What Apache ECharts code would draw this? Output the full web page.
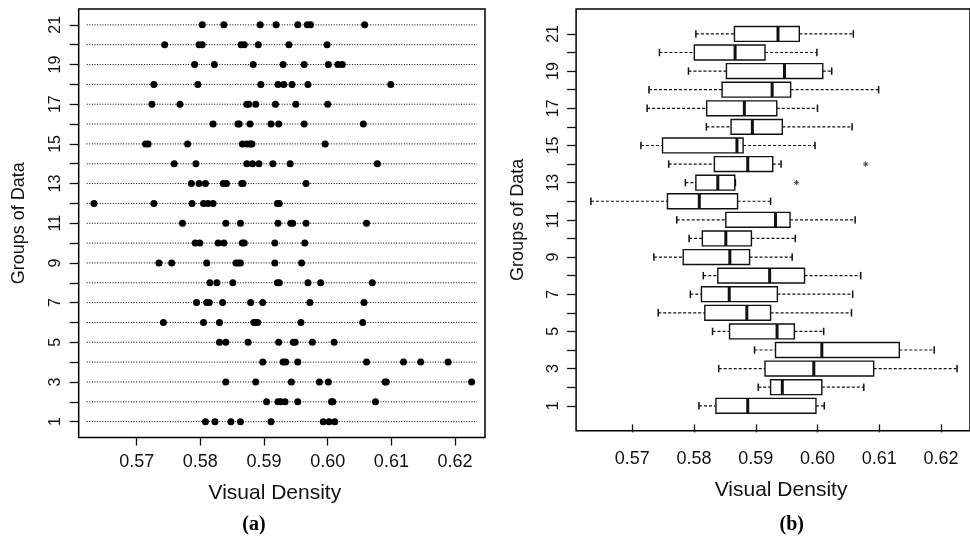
<!DOCTYPE html>
<html>
<head>
<meta charset="utf-8">
<script src="https://cdn.jsdelivr.net/npm/echarts@6/dist/echarts.min.js"></script>
<style>
  html, body { margin: 0; padding: 0; background: #fff; }
  #chart { width: 970px; height: 540px; }
</style>
</head>
<body>
<div id="chart"></div>
<script>
// Group numbers and tick labels
const groupIds = [1, 2, 3, 4, 5, 6, 7, 8, 9, 10, 11, 12, 13, 14, 15, 16, 17, 18, 19, 20, 21];
const groupTickLabels = [1, 3, 5, 7, 9, 11, 13, 15, 17, 19, 21];
const densityTicks = [0.57, 0.58, 0.59, 0.60, 0.61, 0.62];

// Visual density measurements, one array per group
const group01 = [0.5808, 0.5823, 0.5848, 0.5863, 0.5911, 0.5993, 0.6002, 0.6011];
const group02 = [0.5904, 0.5922, 0.5926, 0.5933, 0.5953, 0.6006, 0.6008, 0.6075];
const group03 = [0.5840, 0.5887, 0.5943, 0.5987, 0.6001, 0.6090, 0.6092, 0.6226];
const group04 = [0.5898, 0.5930, 0.5934, 0.5953, 0.6061, 0.6119, 0.6146, 0.6189];
const group05 = [0.5830, 0.5840, 0.5875, 0.5923, 0.5946, 0.5949, 0.5976, 0.6010];
const group06 = [0.5742, 0.5805, 0.5830, 0.5884, 0.5887, 0.5890, 0.5958, 0.6055];
const group07 = [0.5794, 0.5810, 0.5814, 0.5835, 0.5879, 0.5898, 0.5972, 0.6057];
const group08 = [0.5815, 0.5826, 0.5851, 0.5921, 0.5924, 0.5969, 0.5989, 0.6070];
const group09 = [0.5735, 0.5755, 0.5810, 0.5856, 0.5860, 0.5863, 0.5917, 0.5959];
const group10 = [0.5792, 0.5799, 0.5828, 0.5837, 0.5866, 0.5869, 0.5917, 0.5964];
const group11 = [0.5772, 0.5840, 0.5863, 0.5922, 0.5942, 0.5945, 0.5966, 0.6061];
const group12 = [0.5633, 0.5727, 0.5787, 0.5805, 0.5812, 0.5820, 0.5921, 0.5924];
const group13 = [0.5786, 0.5798, 0.5808, 0.5836, 0.5841, 0.5865, 0.5867, 0.5966];
const group14 = [0.5759, 0.5793, 0.5873, 0.5882, 0.5892, 0.5914, 0.5941, 0.6078];
const group15 = [0.5714, 0.5718, 0.5780, 0.5866, 0.5873, 0.5878, 0.5881, 0.5996];
const group16 = [0.5820, 0.5859, 0.5861, 0.5878, 0.5911, 0.5923, 0.5963, 0.6056];
const group17 = [0.5724, 0.5768, 0.5873, 0.5876, 0.5887, 0.5918, 0.5950, 0.6000];
const group18 = [0.5727, 0.5796, 0.5895, 0.5922, 0.5931, 0.5944, 0.5969, 0.6099];
const group19 = [0.5791, 0.5822, 0.5883, 0.5930, 0.5963, 0.6001, 0.6016, 0.6023];
const group20 = [0.5744, 0.5798, 0.5803, 0.5864, 0.5869, 0.5891, 0.5939, 0.5999];
const group21 = [0.5803, 0.5837, 0.5894, 0.5919, 0.5953, 0.5968, 0.5973, 0.6058];

const densityByGroup = [
  group01, group02, group03, group04, group05, group06, group07,
  group08, group09, group10, group11, group12, group13, group14,
  group15, group16, group17, group18, group19, group20, group21
];

// Tukey five-number summary (hinges), as used by classic box plots
function fiveNum(values) {
  const x = values.slice().sort((a, b) => a - b);
  const n = x.length;
  const n4 = Math.floor((n + 3) / 2) / 2;
  const d = [1, n4, (n + 1) / 2, n + 1 - n4, n];
  return d.map(p => 0.5 * (x[Math.floor(p) - 1] + x[Math.ceil(p) - 1]));
}

function boxStats(values) {
  const [mn, lh, med, uh, mx] = fiveNum(values);
  const reach = 1.5 * (uh - lh);
  const inside = values.filter(v => v >= lh - reach && v <= uh + reach);
  const outside = values.filter(v => v < lh - reach || v > uh + reach);
  return {
    low: Math.min(...inside), q1: lh, median: med, q3: uh, high: Math.max(...inside), outliers: outside
  };
}

const boxData = [];
const outlierData = [];
densityByGroup.forEach((vals, i) => {
  const s = boxStats(vals);
  boxData.push([groupIds[i], s.low, s.q1, s.median, s.q3, s.high]);
  s.outliers.forEach(v => outlierData.push([v, groupIds[i]]));
});

const dotData = [];
densityByGroup.forEach((vals, i) => vals.forEach(v => dotData.push([v, groupIds[i]])));

const INK = '#111';
const SANS = '"Liberation Sans", Arial, Helvetica, sans-serif';

function renderGuide(params, api) {
  const cs = params.coordSys;
  const y = api.coord([densityTicks[0], api.value(0)])[1];
  return {
    type: 'line',
    shape: { x1: cs.x + 8, y1: y, x2: cs.x + cs.width - 8, y2: y },
    style: { stroke: '#000', lineWidth: 1, lineDash: [1, 1.6] },
    silent: true
  };
}

function renderBox(params, api) {
  const g = api.value(0);
  const pLo = api.coord([api.value(1), g]);
  const pQ1 = api.coord([api.value(2), g]);
  const pMd = api.coord([api.value(3), g]);
  const pQ3 = api.coord([api.value(4), g]);
  const pHi = api.coord([api.value(5), g]);
  const half = api.size([0, 0.8])[1] / 2;
  const cap = half / 2;
  const y = pMd[1];
  const dash = { stroke: INK, lineWidth: 1.2, lineDash: [3, 2] };
  return {
    type: 'group',
    children: [
      { type: 'line', shape: { x1: pLo[0], y1: y, x2: pQ1[0], y2: y }, style: dash },
      { type: 'line', shape: { x1: pQ3[0], y1: y, x2: pHi[0], y2: y }, style: dash },
      { type: 'line', shape: { x1: pLo[0], y1: y - cap, x2: pLo[0], y2: y + cap }, style: { stroke: INK, lineWidth: 1.5 } },
      { type: 'line', shape: { x1: pHi[0], y1: y - cap, x2: pHi[0], y2: y + cap }, style: { stroke: INK, lineWidth: 1.5 } },
      { type: 'rect', shape: { x: pQ1[0], y: y - half, width: pQ3[0] - pQ1[0], height: 2 * half }, style: { fill: '#fff', stroke: INK, lineWidth: 1.4 } },
      { type: 'line', shape: { x1: pMd[0], y1: y - half, x2: pMd[0], y2: y + half }, style: { stroke: INK, lineWidth: 3 } }
    ]
  };
}

function renderAsterisk(params, api) {
  const p = api.coord([api.value(0), api.value(1)]);
  const r = 2.8;
  const d = r * 0.707;
  const st = { stroke: '#444', lineWidth: 0.9 };
  return {
    type: 'group',
    children: [
      { type: 'line', shape: { x1: p[0] - r, y1: p[1], x2: p[0] + r, y2: p[1] }, style: st },
      { type: 'line', shape: { x1: p[0], y1: p[1] - r, x2: p[0], y2: p[1] + r }, style: st },
      { type: 'line', shape: { x1: p[0] - d, y1: p[1] - d, x2: p[0] + d, y2: p[1] + d }, style: st },
      { type: 'line', shape: { x1: p[0] - d, y1: p[1] + d, x2: p[0] + d, y2: p[1] - d }, style: st }
    ]
  };
}

function densityAxis(gridIndex, labelMargin, nameGap, namePadding) {
  return {
    type: 'value', gridIndex: gridIndex,
    min: 0.5609, max: 0.6247,
    name: 'Visual Density', nameLocation: 'middle', nameGap: nameGap,
    nameTextStyle: { fontFamily: SANS, fontSize: 21, color: INK, padding: namePadding },
    axisLine: { show: false },
    splitLine: { show: false },
    axisTick: { show: true, length: 8, customValues: densityTicks, lineStyle: { color: INK, width: 1.3 } },
    axisLabel: {
      customValues: densityTicks, margin: labelMargin,
      formatter: v => v.toFixed(2),
      fontFamily: SANS, fontSize: 18, color: INK
    }
  };
}

function groupAxis(gridIndex, min, max, labelMargin, nameGap) {
  return {
    type: 'value', gridIndex: gridIndex,
    min: min, max: max,
    name: 'Groups of Data', nameLocation: 'middle', nameGap: nameGap,
    nameTextStyle: { fontFamily: SANS, fontSize: 18, color: INK },
    axisLine: { show: false },
    splitLine: { show: false },
    axisTick: { show: true, length: 9, customValues: groupIds, lineStyle: { color: INK, width: 1.3 } },
    axisLabel: {
      customValues: groupTickLabels, rotate: 90, margin: labelMargin,
      fontFamily: SANS, fontSize: 16, color: INK
    }
  };
}

const chart = echarts.init(document.getElementById('chart'), null, { renderer: 'canvas' });

chart.setOption({
  backgroundColor: '#fff',
  animation: false,
  grid: [
    { left: 78.7, top: 9, width: 406.3, height: 428.5, show: true, borderColor: '#000', borderWidth: 1.5, backgroundColor: 'transparent' },
    { left: 576.1, top: 9, right: -7.3, height: 421.7, show: true, borderColor: '#000', borderWidth: 1.5, backgroundColor: 'transparent' }
  ],
  xAxis: [densityAxis(0, 16, 45.5, [0, 14, 0, 0]), densityAxis(1, 19.5, 49.4, [0, 0, 0, 16])],
  yAxis: [groupAxis(0, 0.2, 21.8, 15.5, 50.4), groupAxis(1, -0.34, 22.34, 14.6, 48.8)],
  graphic: [
    { type: 'text', x: 254, y: 525, style: { text: '(a)', font: 'bold 20px "Liberation Serif", "Times New Roman", serif', fill: '#000', textAlign: 'center', textVerticalAlign: 'middle' } },
    { type: 'text', x: 791.7, y: 525, style: { text: '(b)', font: 'bold 20px "Liberation Serif", "Times New Roman", serif', fill: '#000', textAlign: 'center', textVerticalAlign: 'middle' } }
  ],
  series: [
    {
      type: 'custom', xAxisIndex: 0, yAxisIndex: 0,
      data: groupIds.map(g => [g]), encode: { y: 0 },
      renderItem: renderGuide, silent: true, z: 1
    },
    {
      type: 'scatter', xAxisIndex: 0, yAxisIndex: 0,
      data: dotData, symbol: 'circle', symbolSize: 7,
      itemStyle: { color: '#000', opacity: 1 }, silent: true, z: 2
    },
    {
      type: 'custom', xAxisIndex: 1, yAxisIndex: 1,
      data: boxData, encode: { x: [1, 2, 3, 4, 5], y: 0 },
      renderItem: renderBox, silent: true, z: 2
    },
    {
      type: 'custom', xAxisIndex: 1, yAxisIndex: 1,
      data: outlierData, encode: { x: 0, y: 1 },
      renderItem: renderAsterisk, silent: true, z: 3
    }
  ]
});
</script>
</body>
</html>
